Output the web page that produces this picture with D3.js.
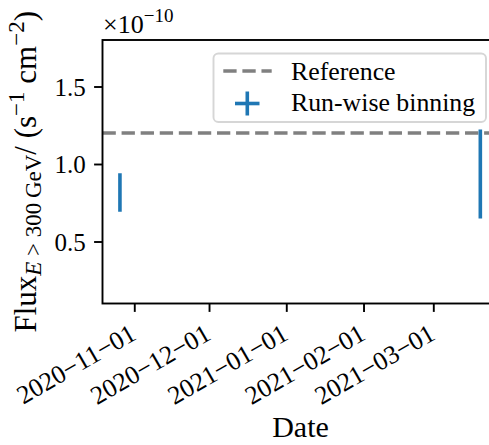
<!DOCTYPE html>
<html>
<head>
<meta charset="utf-8">
<script src="https://cdn.jsdelivr.net/npm/d3@7"></script>
<style>
  html, body { margin: 0; padding: 0; background: #fff; }
  svg { display: block; }
  text { font-family: "Liberation Serif", "DejaVu Serif", serif; fill: #000; }
</style>
</head>
<body>
<svg id="chart" width="489" height="445"></svg>
<script>
// Run-wise flux points (E > 300 GeV)
const runDates = ["2020-10-26T06:00:00Z", "2021-03-19T21:00:00Z"];
const runFlux = [0.816e-10, 0.936e-10];
const runFluxErr = [0.124e-10, 0.287e-10];

// Reference flux level
const referenceFlux = 1.2e-10;

// Axis ticks
const xTickDates = ["2020-11-01", "2020-12-01", "2021-01-01", "2021-02-01", "2021-03-01"];
const yTickValues = [0.5e-10, 1.0e-10, 1.5e-10];
const yScaleExp = -10;

// Axis limits
const xLimits = ["2020-10-19T06:00:00Z", "2021-03-27T04:00:00Z"];
const yLimits = [0.1e-10, 1.8e-10];

const legendLabels = ["Reference", "Run-wise binning"];

const blue = "#1f77b4";
const grey = "#808080";
const lw = 3.6;

const svg = d3.select("#chart");
const plot = { left: 102.5, right: 498.5, top: 40, bottom: 303.5 };

const x = d3.scaleUtc()
  .domain(xLimits.map(d => new Date(d)))
  .range([plot.left, plot.right]);
const y = d3.scaleLinear()
  .domain(yLimits)
  .range([plot.bottom, plot.top]);

svg.append("defs").append("clipPath").attr("id", "plot-clip")
  .append("rect")
  .attr("x", plot.left).attr("y", plot.top)
  .attr("width", plot.right - plot.left).attr("height", plot.bottom - plot.top);

const marks = svg.append("g").attr("clip-path", "url(#plot-clip)");

// Reference line
marks.append("line")
  .attr("x1", plot.left).attr("x2", plot.right)
  .attr("y1", y(referenceFlux)).attr("y2", y(referenceFlux))
  .attr("stroke", grey).attr("stroke-width", lw)
  .attr("stroke-dasharray", `${3.7 * lw} ${1.6 * lw}`);

// Error bars
const runs = runDates.map((d, i) => ({ date: new Date(d), flux: runFlux[i], err: runFluxErr[i] }));
marks.selectAll("line.err").data(runs).join("line")
  .attr("class", "err")
  .attr("x1", d => x(d.date)).attr("x2", d => x(d.date))
  .attr("y1", d => y(d.flux - d.err)).attr("y2", d => y(d.flux + d.err))
  .attr("stroke", blue).attr("stroke-width", lw);

// X axis
const xAxis = d3.axisBottom(x)
  .tickValues(xTickDates.map(d => new Date(d + "T00:00:00Z")))
  .tickSize(8.4)
  .tickFormat(d => d3.utcFormat("%Y−%m−%d")(d));
const gx = svg.append("g").attr("transform", `translate(0,${plot.bottom})`).call(xAxis);
gx.select(".domain").remove();
gx.selectAll(".tick line").attr("stroke", "#000").attr("stroke-width", 1.9);
gx.selectAll(".tick text")
  .attr("font-size", 26)
  .attr("text-anchor", "end")
  .attr("y", 0).attr("dy", 0)
  .attr("transform", "translate(3,35) rotate(-30)");

// Y axis
const yAxis = d3.axisLeft(y)
  .tickValues(yTickValues)
  .tickSize(8.4)
  .tickPadding(8.4)
  .tickFormat(d => (d / Math.pow(10, yScaleExp)).toFixed(1));
const gy = svg.append("g").attr("transform", `translate(${plot.left},0)`).call(yAxis);
gy.select(".domain").remove();
gy.selectAll(".tick line").attr("stroke", "#000").attr("stroke-width", 1.9);
gy.selectAll(".tick text").attr("font-size", 25).attr("dy", "0.34em");

// Spines
svg.append("rect")
  .attr("x", plot.left).attr("y", plot.top)
  .attr("width", plot.right - plot.left).attr("height", plot.bottom - plot.top)
  .attr("fill", "none").attr("stroke", "#000").attr("stroke-width", 1.9);

// Offset text (×10^-10)
const off = svg.append("text").attr("x", 103).attr("y", 33).attr("font-size", 26);
off.append("tspan").text("×10");
off.append("tspan").attr("font-size", 19).attr("dy", -11).text(`−${Math.abs(yScaleExp)}`);

// X label
svg.append("text")
  .attr("x", (plot.left + plot.right) / 2).attr("y", 436.5)
  .attr("text-anchor", "middle").attr("font-size", 30)
  .text("Date");

// Y label
const yl = svg.append("text")
  .attr("transform", `translate(36,${(plot.top + plot.bottom) / 2}) rotate(-90)`)
  .attr("text-anchor", "middle").attr("font-size", 31);
yl.append("tspan").text("Flux");
yl.append("tspan").attr("font-size", 23).attr("dy", 5).attr("font-style", "italic").text("E");
yl.append("tspan").attr("font-size", 23).text(" > 300\u2009GeV");
yl.append("tspan").attr("dy", -5).text("/ (s");
yl.append("tspan").attr("font-size", 23).attr("dy", -12).text("−1");
yl.append("tspan").attr("dy", 12).text(" cm");
yl.append("tspan").attr("font-size", 23).attr("dy", -12).text("−2");
yl.append("tspan").attr("dy", 12).text(")");

// Legend
const leg = svg.append("g");
leg.append("rect")
  .attr("x", 213.5).attr("y", 53.5).attr("width", 486 - 213.5).attr("height", 122 - 53.5)
  .attr("rx", 4.8).attr("ry", 4.8)
  .attr("fill", "#fff").attr("fill-opacity", 0.8)
  .attr("stroke", "#d6d6d6").attr("stroke-width", 1.9);
leg.append("line")
  .attr("x1", 223.3).attr("x2", 271.7).attr("y1", 71).attr("y2", 71)
  .attr("stroke", grey).attr("stroke-width", lw)
  .attr("stroke-dasharray", `${3.7 * lw} ${1.6 * lw}`);
leg.append("line")
  .attr("x1", 235).attr("x2", 259.5).attr("y1", 103.5).attr("y2", 103.5)
  .attr("stroke", blue).attr("stroke-width", lw);
leg.append("line")
  .attr("x1", 247.3).attr("x2", 247.3).attr("y1", 91.5).attr("y2", 115.5)
  .attr("stroke", blue).attr("stroke-width", lw);
leg.append("text").attr("x", 291).attr("y", 79.5).attr("font-size", 25.8).text(legendLabels[0]);
leg.append("text").attr("x", 291).attr("y", 110.5).attr("font-size", 25.8).text(legendLabels[1]);
</script>
</body>
</html>
